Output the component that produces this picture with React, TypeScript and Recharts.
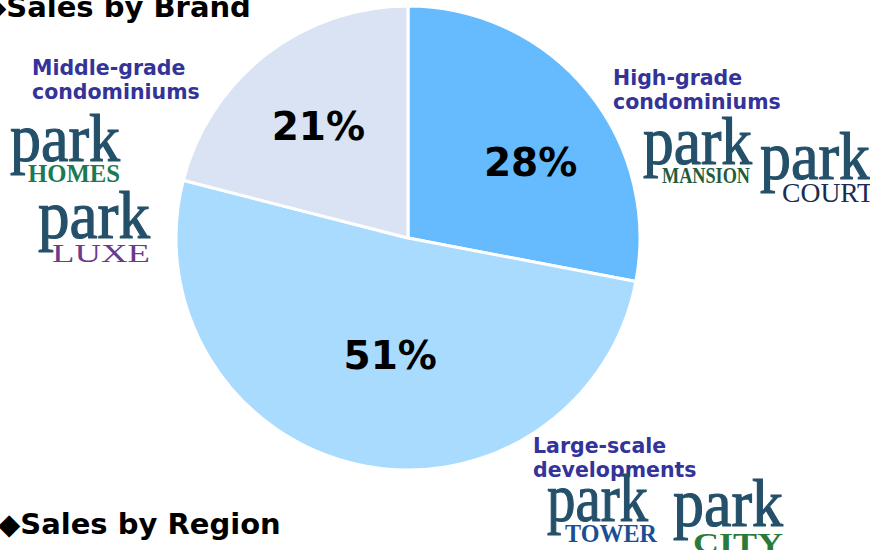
import { PieChart, Pie, Cell } from 'recharts'

// segments, clockwise from 12 o'clock
const segments = ['High-grade condominiums', 'Large-scale developments', 'Middle-grade condominiums']
const shares = [28, 51, 21]
const shareLabels = ['28%', '51%', '21%']

const sliceColors = ['#66BBFF', '#A9DBFF', '#DAE3F3']
// label placement tweaks (radius px, angle offset deg) per slice
const labelPlace = [
  { r: 144, da: -8 },
  { r: 119, da: 4 },
  { r: 143, da: 1 },
]

const data = segments.map((name, i) => ({ name, value: shares[i], label: shareLabels[i] }))

const RAD = Math.PI / 180
const CX = 408
const CY = 238
const R = 232

const labelFont = '"DejaVu Sans", Verdana, sans-serif'
const logoFont = '"Liberation Serif", "Times New Roman", serif'
const catColor = '#333399'
const parkColor = '#24506A'

function PctLabel(props: any) {
  const { cx, cy, midAngle, index } = props
  const p = labelPlace[index]
  const a = (midAngle + p.da) * RAD
  const x = cx + p.r * Math.cos(a)
  const y = cy - p.r * Math.sin(a)
  return (
    <text
      x={x}
      y={y}
      textAnchor="middle"
      dominantBaseline="central"
      fill="#000"
      fontFamily={labelFont}
      fontWeight="bold"
      fontSize={39}
    >
      {data[index].label}
    </text>
  )
}

function Logo({ x, y, w, sub, subX, subY, subW, subColor, subSize, subBold }: any) {
  return (
    <g>
      <text
        x={x}
        y={y}
        fontFamily={logoFont}
        fontSize={68}
        fill={parkColor}
        stroke={parkColor}
        strokeWidth={1.2}
        textLength={w}
        lengthAdjust="spacingAndGlyphs"
      >
        park
      </text>
      <text
        x={subX}
        y={subY}
        fontFamily={logoFont}
        fontSize={subSize}
        fontWeight={subBold ? 'bold' : 'normal'}
        fill={subColor}
        textLength={subW}
        lengthAdjust="spacingAndGlyphs"
      >
        {sub}
      </text>
    </g>
  )
}

function CatLabel({ x, y, lines }: { x: number; y: number; lines: string[] }) {
  return (
    <text x={x} y={y} fontFamily={labelFont} fontWeight="bold" fontSize={20.5} fill={catColor}>
      {lines.map((l, i) => (
        <tspan key={i} x={x} dy={i === 0 ? 0 : 24}>
          {l}
        </tspan>
      ))}
    </text>
  )
}

export default function App() {
  return (
    <div style={{ position: 'absolute', left: 0, top: 0, width: 870, height: 550, background: '#fff', overflow: 'hidden' }}>
      <PieChart width={870} height={550} margin={{ top: 0, right: 0, bottom: 0, left: 0 }}>
        <Pie
          data={data}
          dataKey="value"
          nameKey="name"
          cx={CX}
          cy={CY}
          outerRadius={R}
          startAngle={90}
          endAngle={-270}
          stroke="#fff"
          strokeWidth={3}
          label={PctLabel}
          labelLine={false}
          isAnimationActive={false}
        >
          {data.map((d, i) => (
            <Cell key={d.name} fill={sliceColors[i]} />
          ))}
        </Pie>
      </PieChart>

      <svg width={870} height={550} style={{ position: 'absolute', left: 0, top: 0, pointerEvents: 'none' }}>
        <text x={-16} y={17} fontFamily={labelFont} fontWeight="bold" fontSize={29} fill="#000">
          ◆Sales by Brand
        </text>
        <text x={-2} y={534} fontFamily={labelFont} fontWeight="bold" fontSize={29} fill="#000">
          ◆Sales by Region
        </text>

        <CatLabel x={32} y={75} lines={['Middle-grade', 'condominiums']} />
        <CatLabel x={613} y={85} lines={['High-grade', 'condominiums']} />
        <CatLabel x={533} y={453} lines={['Large-scale', 'developments']} />

        <Logo x={10} y={161} w={110} sub="HOMES" subX={28} subY={182} subW={92} subColor="#1B7A55" subSize={25} subBold />
        <Logo x={38} y={238} w={112} sub="LUXE" subX={52} subY={262} subW={98} subColor="#6B3A8C" subSize={26} />
        <Logo x={643} y={164} w={109} sub="MANSION" subX={662} subY={183} subW={88} subColor="#1F5C3A" subSize={24} subBold />
        <Logo x={760} y={179} w={110} sub="COURT" subX={782} subY={202} subW={92} subColor="#1C2C50" subSize={28} />
        <Logo x={547} y={521} w={101} sub="TOWER" subX={565} subY={542} subW={92} subColor="#1A4F96" subSize={26} subBold />
        <Logo x={673} y={526} w={110} sub="CITY" subX={693} subY={552} subW={90} subColor="#2A7A3A" subSize={27} subBold />
      </svg>
    </div>
  )
}
